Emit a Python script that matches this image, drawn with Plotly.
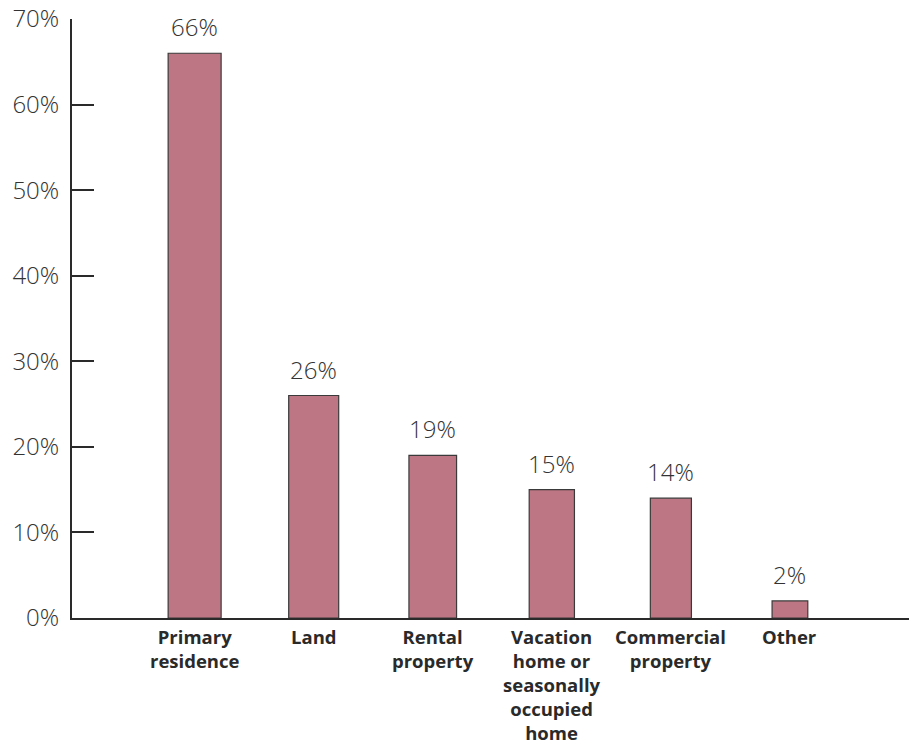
import plotly.graph_objects as go

categories = [["Primary", "residence"], ["Land"], ["Rental", "property"],
              ["Vacation", "home or", "seasonally", "occupied", "home"],
              ["Commercial", "property"], ["Other"]]
values = [66, 26, 19, 15, 14, 2]
bar_widths = [0.445, 0.42, 0.40, 0.38, 0.345, 0.30]
y_ticks = [0, 10, 20, 30, 40, 50, 60, 70]
y_tick_labels = [f"{v}%" for v in y_ticks]

positions = list(range(len(categories)))
FONT = "Open Sans, Noto Sans, sans-serif"

fig = go.Figure(go.Bar(
    x=positions,
    y=values,
    width=bar_widths,
    marker=dict(color="#bd7683", line=dict(color="#3a3a3a", width=1.2)),
    hoverinfo="x+y",
))

annotations = []
# value labels above each bar
for p, v in zip(positions, values):
    annotations.append(dict(
        x=p, y=v, xref="x", yref="y", text=f"{v}%", showarrow=False,
        yanchor="bottom", yshift=8,
        font=dict(family=FONT, size=24, color="#333333", weight=300),
    ))
# category labels under the axis
for p, lines in zip(positions, categories):
    annotations.append(dict(
        x=p, y=0, xref="x", yref="paper",
        text="<br>".join(f"<b>{line}</b>" for line in lines),
        showarrow=False, yanchor="top", yshift=-4, align="center",
        font=dict(family=FONT, size=18.5, color="#2a2a2a"),
    ))

fig.update_layout(
    width=909, height=746,
    margin=dict(l=72, r=0, t=19, b=128),
    plot_bgcolor="white", paper_bgcolor="white",
    showlegend=False,
    font=dict(family=FONT, color="#333333"),
    annotations=annotations,
)

fig.update_xaxes(
    range=[-1.03, 6.0],
    showticklabels=False, automargin=False,
    showline=True, linecolor="#2a2a2a", linewidth=1.5,
    ticks="", showgrid=False, zeroline=False,
)

fig.update_yaxes(
    range=[0, 70], automargin=False,
    tickmode="array", tickvals=y_ticks, ticktext=y_tick_labels,
    tickfont=dict(family=FONT, size=24, color="#333333", weight=300),
    ticklabelstandoff=6,
    ticks="inside", ticklen=22, tickwidth=2, tickcolor="#2a2a2a",
    showline=True, linecolor="#2a2a2a", linewidth=2,
    showgrid=False, zeroline=False,
)

fig.write_html("out.html")
